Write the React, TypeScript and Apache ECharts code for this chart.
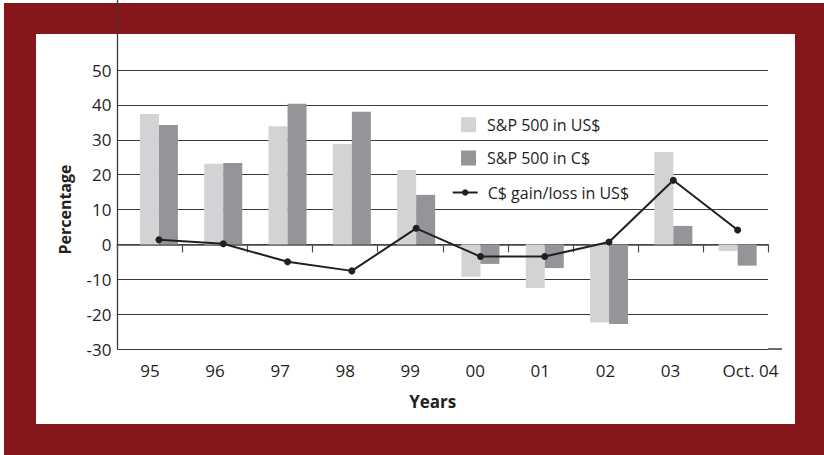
import React, { useEffect, useRef } from "react";
import * as echarts from "echarts";

const years = ["95", "96", "97", "98", "99", "00", "01", "02", "03", "Oct. 04"];
const spUsd = [37.4, 23.1, 33.9, 28.8, 21.3, -9.3, -12.5, -22.4, 26.5, -1.9];
const spCad = [34.2, 23.3, 40.3, 38.0, 14.2, -5.6, -6.8, -22.8, 5.3, -6.1];
const cadGain = [1.3, 0.2, -5.0, -7.6, 4.6, -3.5, -3.5, 0.7, 18.4, 4.1];

const NAME_USD = "S&P 500 in US$";
const NAME_CAD = "S&P 500 in C$";
const NAME_FX = "C$ gain/loss in US$";

const FONT = "'Open Sans', 'Noto Sans', sans-serif";
const INK = "#231f20";

export default function App() {
  const ref = useRef<HTMLDivElement>(null);

  useEffect(() => {
    if (!ref.current) return;
    const chart = echarts.init(ref.current, null, { renderer: "svg" });
    const legendBase = {
      orient: "vertical",
      padding: 0,
      selectedMode: false,
      textStyle: { fontFamily: FONT, fontSize: 16, color: INK },
    };
    chart.setOption({
      animation: false,
      backgroundColor: "transparent",
      grid: [
        { left: 117.5, right: 56, top: 70, bottom: 106 },
        { left: 126.8, width: 643, top: 70, bottom: 106 },
      ],
      legend: [
        {
          ...legendBase,
          data: [{ name: NAME_USD, icon: "rect" }],
          left: 461,
          top: 116.7,
          itemWidth: 15,
          itemHeight: 15,
          textStyle: { ...legendBase.textStyle, padding: [0, 0, 0, 6] },
        },
        {
          ...legendBase,
          data: [{ name: NAME_CAD, icon: "rect" }],
          left: 461,
          top: 150,
          itemWidth: 15,
          itemHeight: 15,
          textStyle: { ...legendBase.textStyle, padding: [0, 0, 0, 6] },
        },
        {
          ...legendBase,
          data: [NAME_FX],
          left: 451.7,
          top: 184.5,
          itemWidth: 25,
          itemHeight: 8,
          textStyle: { ...legendBase.textStyle, padding: [0, 0, 0, 5] },
        },
      ],
      xAxis: [
        {
          type: "category",
          gridIndex: 0,
          data: years,
          boundaryGap: true,
          name: "Years",
          nameLocation: "middle",
          nameGap: 44,
          nameTextStyle: {
            fontFamily: FONT,
            fontSize: 17,
            fontWeight: "bold",
            color: INK,
            padding: [0, 20, 0, 0],
          },
          axisLine: { show: true, lineStyle: { color: "#4a4a4a", width: 1.6 } },
          axisTick: {
            show: true,
            alignWithLabel: false,
            interval: 0,
            length: 8,
            lineStyle: { color: "#4a4a4a", width: 1.2 },
          },
          axisLabel: {
            interval: 0,
            margin: 13,
            fontFamily: FONT,
            fontSize: 17,
            color: INK,
            formatter: (v: string) => (v === "Oct. 04" ? "{o|" + v + "}" : v),
            rich: {
              o: {
                fontFamily: FONT,
                fontSize: 17,
                color: INK,
                padding: [0, 0, 0, 30],
              },
            },
          },
          splitLine: { show: false },
        },
        {
          type: "category",
          gridIndex: 1,
          data: years,
          boundaryGap: true,
          show: false,
        },
      ],
      yAxis: [
        {
          type: "value",
          gridIndex: 0,
          min: -30,
          max: 50,
          interval: 10,
          name: "Percentage",
          nameLocation: "middle",
          nameRotate: 90,
          nameGap: 45,
          nameTextStyle: {
            fontFamily: FONT,
            fontSize: 16,
            fontWeight: "bold",
            color: INK,
          },
          axisLine: { show: true, lineStyle: { color: "#3a3a3a", width: 1.3 } },
          axisTick: { show: false },
          axisLabel: {
            margin: 6,
            fontFamily: FONT,
            fontSize: 17,
            color: INK,
          },
          splitLine: { show: true, lineStyle: { color: "#3a3a3a", width: 1.2 } },
        },
        {
          type: "value",
          gridIndex: 1,
          min: -30,
          max: 50,
          interval: 10,
          show: false,
          splitLine: { show: false },
        },
      ],
      series: [
        {
          name: NAME_USD,
          type: "bar",
          xAxisIndex: 1,
          yAxisIndex: 1,
          data: spUsd,
          barWidth: 19,
          barGap: "0%",
          itemStyle: { color: "#d1d3d4" },
        },
        {
          name: NAME_CAD,
          type: "bar",
          xAxisIndex: 1,
          yAxisIndex: 1,
          data: spCad,
          barWidth: 19,
          barGap: "0%",
          itemStyle: { color: "#939598" },
        },
        {
          name: NAME_FX,
          type: "line",
          xAxisIndex: 1,
          yAxisIndex: 1,
          data: cadGain,
          symbol: "circle",
          symbolSize: 7,
          lineStyle: { color: INK, width: 2 },
          itemStyle: { color: INK },
          z: 5,
        },
      ],
      graphic: [
        {
          type: "line",
          shape: { x1: 117.5, y1: 0, x2: 117.5, y2: 70 },
          style: { stroke: "#3a3a3a", lineWidth: 1.3 },
          z: 100,
        },
        {
          type: "line",
          shape: { x1: 768, y1: 349, x2: 782, y2: 349 },
          style: { stroke: "#4a4a4a", lineWidth: 1.6 },
          z: 100,
        },
      ],
    });
    return () => chart.dispose();
  }, []);

  return (
    <div
      style={{
        position: "fixed",
        left: 0,
        top: 0,
        width: 824,
        height: 455,
        background: "#ffffff",
        overflow: "hidden",
      }}
    >
      <div
        style={{
          position: "absolute",
          left: 4,
          top: 3,
          right: 0,
          bottom: 0,
          background: "#86161c",
        }}
      />
      <div
        style={{
          position: "absolute",
          left: 36,
          top: 34,
          width: 759,
          height: 390,
          background: "#ffffff",
        }}
      />
      <div
        ref={ref}
        style={{ position: "absolute", left: 0, top: 0, width: 824, height: 455 }}
      />
    </div>
  );
}
